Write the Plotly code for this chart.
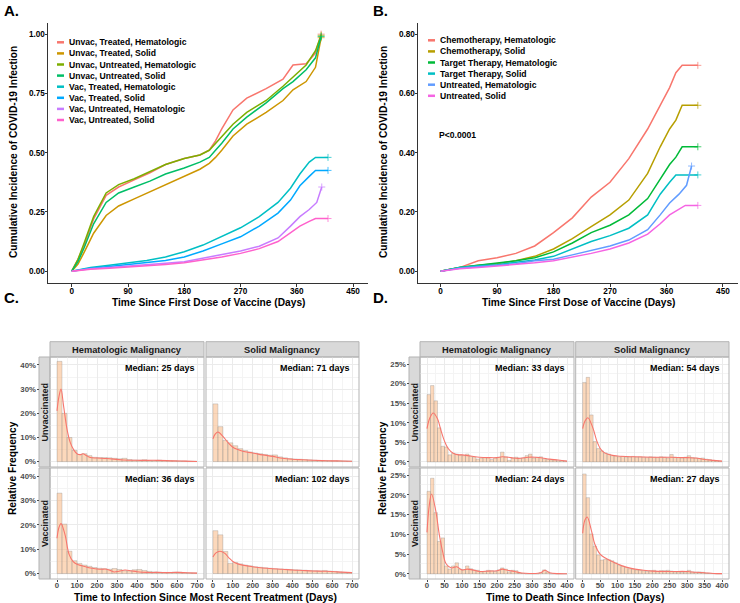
import plotly.graph_objects as go

W, H = 740, 603
FONT = "Liberation Sans, Arial, sans-serif"

# ---------------- panel A: cumulative incidence by vaccination / treatment / cancer
a_names = ["Unvac, Treated, Hematologic", "Unvac, Treated, Solid",
           "Unvac, Untreated, Hematologic", "Unvac, Untreated, Solid",
           "Vac, Treated, Hematologic", "Vac, Treated, Solid",
           "Vac, Untreated, Hematologic", "Vac, Untreated, Solid"]
a_colors = ["#F8766D", "#CD9600", "#7CAE00", "#00BE67",
            "#00BFC4", "#00A9FF", "#C77CFF", "#FF61CC"]

unvac_days = [0, 10, 20, 35, 55, 75, 100, 125, 150, 180, 205, 220, 230, 240,
              258, 280, 311, 338, 354, 375, 390, 399]
unvac_treated_heme = [0, 0.05, 0.11, 0.22, 0.32, 0.355, 0.385, 0.415, 0.45, 0.475, 0.49,
                      0.51, 0.55, 0.60, 0.68, 0.73, 0.77, 0.81, 0.87, 0.875, 0.92, 1.0]
unvac_treated_solid = [0, 0.03, 0.08, 0.16, 0.235, 0.275, 0.305, 0.335, 0.365, 0.40, 0.43,
                       0.455, 0.48, 0.51, 0.57, 0.62, 0.67, 0.72, 0.765, 0.80, 0.86, 0.985]
unvac_untreated_heme = [0, 0.05, 0.12, 0.23, 0.33, 0.365, 0.39, 0.42, 0.45, 0.475, 0.49,
                        0.51, 0.54, 0.57, 0.62, 0.67, 0.72, 0.78, 0.82, 0.87, 0.93, 0.995]
unvac_untreated_solid = [0, 0.04, 0.10, 0.20, 0.29, 0.33, 0.355, 0.38, 0.41, 0.435, 0.46,
                         0.48, 0.51, 0.54, 0.60, 0.65, 0.71, 0.77, 0.80, 0.85, 0.90, 0.99]

vac_days = [0, 30, 60, 90, 120, 150, 180, 210, 240, 270, 300, 330, 350, 365, 380, 390, 410]
vac_treated_heme = [0, 0.015, 0.025, 0.035, 0.045, 0.06, 0.082, 0.11, 0.145, 0.183, 0.23,
                    0.29, 0.35, 0.41, 0.46, 0.48, 0.48]
vac_treated_solid = [0, 0.012, 0.02, 0.028, 0.035, 0.045, 0.06, 0.085, 0.115, 0.145, 0.19,
                     0.245, 0.30, 0.36, 0.40, 0.425, 0.425]
vac_untreated_solid = [0, 0.008, 0.012, 0.017, 0.021, 0.028, 0.035, 0.047, 0.06, 0.075, 0.095,
                       0.125, 0.16, 0.19, 0.21, 0.222, 0.222]
untreated_heme_days = [0, 30, 60, 90, 120, 150, 180, 210, 240, 270, 300, 330, 350, 365, 380, 392, 400]
vac_untreated_heme = [0, 0.01, 0.015, 0.02, 0.025, 0.033, 0.04, 0.055, 0.07, 0.085, 0.105,
                      0.14, 0.19, 0.23, 0.26, 0.29, 0.355]

# ---------------- panel B: cumulative incidence by treatment type
b_names = ["Chemotherapy, Hematologic", "Chemotherapy, Solid",
           "Target Therapy, Hematologic", "Target Therapy, Solid",
           "Untreated, Hematologic", "Untreated, Solid"]
b_colors = ["#F8766D", "#B79F00", "#00BA38", "#00BFC4", "#619CFF", "#F564E3"]
b_days = [0, 30, 60, 90, 120, 150, 180, 210, 240, 270, 300, 330, 350, 365, 375, 385, 410]
chemo_heme = [0, 0.012, 0.035, 0.045, 0.06, 0.085, 0.13, 0.18, 0.25, 0.30, 0.38, 0.48,
              0.56, 0.62, 0.67, 0.695, 0.695]
chemo_solid = [0, 0.012, 0.02, 0.025, 0.035, 0.05, 0.075, 0.11, 0.15, 0.19, 0.24, 0.33,
               0.42, 0.48, 0.51, 0.56, 0.56]
target_heme = [0, 0.012, 0.02, 0.027, 0.035, 0.045, 0.065, 0.095, 0.13, 0.155, 0.19, 0.245,
               0.31, 0.36, 0.385, 0.42, 0.42]
target_solid = [0, 0.012, 0.018, 0.022, 0.03, 0.038, 0.05, 0.075, 0.10, 0.12, 0.145, 0.19,
                0.26, 0.30, 0.325, 0.325, 0.325]
untreated_heme = [0, 0.01, 0.015, 0.02, 0.025, 0.035, 0.04, 0.055, 0.07, 0.085, 0.105, 0.14,
                  0.19, 0.23, 0.26, 0.29, 0.355]
untreated_solid = vac_untreated_solid

# ---------------- panel C: time to infection since most recent treatment (25-day bins, %)
c_bin_start = list(range(0, 700, 25))
c_heme_unvac = [41.5, 20.0, 10.0, 4.7, 3.0, 3.3, 2.5, 1.8, 1.7, 1.7, 1.6, 1.4, 1.2, 1.4,
                0.9, 0.7, 0.6, 0.8, 0.5, 0.5, 0.6, 0.5, 0.5, 0.4, 0.3, 0.3, 0.2, 0.2]
c_solid_unvac = [23.9, 14.5, 8.8, 7.8, 6.6, 5.4, 4.6, 4.0, 3.6, 3.3, 3.0, 2.7, 2.8, 2.0,
                 1.6, 1.3, 1.1, 1.0, 0.9, 0.75, 0.6, 0.5, 0.5, 0.45, 0.4, 0.35, 0.3, 0.25]
c_heme_vac = [33.0, 20.3, 9.2, 5.3, 4.2, 3.5, 3.0, 2.5, 2.2, 2.0, 1.8, 2.1, 1.7, 1.2,
              1.1, 1.6, 1.7, 1.3, 0.9, 0.7, 0.6, 0.5, 0.5, 0.6, 0.6, 0.4, 0.3, 0.3]
c_solid_vac = [17.6, 15.9, 9.1, 4.2, 4.6, 4.0, 3.5, 3.2, 2.8, 2.6, 2.4, 2.2, 2.0, 1.9,
               1.8, 1.7, 1.6, 1.5, 1.4, 1.3, 1.2, 1.1, 1.3, 1.0, 0.9, 0.7, 0.5, 0.4]
c_heme_unvac_kd_x = [0, 10, 20, 33, 50, 66, 83, 100, 116, 130, 146, 166, 200, 250, 330,
                     415, 500, 580, 640, 700]
c_heme_unvac_kd = [21, 27, 30, 23, 13.5, 8, 5, 3.3, 2.9, 3.3, 2.6, 1.7, 1.5, 1.3, 0.7,
                   0.55, 0.55, 0.35, 0.25, 0.1]
c_solid_unvac_kd_x = [0, 12, 25, 50, 75, 100, 125, 150, 200, 250, 300, 350, 400, 450, 500,
                      550, 600, 650, 700]
c_solid_unvac_kd = [9.5, 11.5, 12.3, 10.5, 8.0, 6.0, 5.0, 4.3, 3.6, 2.8, 2.2, 1.4, 1.0,
                    0.8, 0.6, 0.45, 0.35, 0.3, 0.2]
c_heme_vac_kd_x = [0, 10, 20, 40, 60, 80, 100, 125, 150, 175, 200, 225, 240, 260, 285, 310,
                   340, 370, 400, 450, 500, 550, 600, 650, 700]
c_heme_vac_kd = [14.5, 19, 20.5, 16, 8, 5, 3.8, 3.2, 2.6, 2.2, 1.9, 1.8, 1.9, 1.5, 0.7, 1.0,
                 1.5, 1.2, 0.8, 0.5, 0.5, 0.4, 0.5, 0.35, 0.2]
c_solid_vac_kd_x = [0, 15, 35, 60, 80, 100, 125, 150, 200, 250, 300, 350, 400, 450, 500,
                    550, 600, 650, 700]
c_solid_vac_kd = [6.8, 8.5, 9.2, 8.3, 6.5, 5.0, 4.0, 3.5, 2.8, 2.3, 2.0, 1.8, 1.5, 1.3, 1.1,
                  1.0, 0.9, 0.6, 0.4]
c_medians = ["Median: 25 days", "Median: 71 days", "Median: 36 days", "Median: 102 days"]

# ---------------- panel D: time to death since infection (10-day bins, %)
d_bin_start = list(range(0, 400, 10))
d_heme_unvac = [17.2, 19.5, 15.6, 8.7, 4.0, 3.8, 1.8, 2.2, 2.0, 1.8, 1.6, 2.0, 1.4, 1.2,
                0.7, 1.0, 1.1, 1.1, 0.6, 1.0, 1.2, 2.5, 1.3, 0.4, 1.0, 1.2, 0.9, 1.0, 1.6,
                2.0, 1.0, 1.2, 1.3, 0.8, 0.6, 0.5, 0.5, 0.3, 0.3, 0.2]
d_solid_unvac = [20.3, 21.6, 12.0, 5.2, 3.4, 2.8, 2.3, 2.0, 1.6, 1.5, 1.3, 1.4, 1.2, 1.3,
                 1.4, 1.2, 1.3, 1.2, 1.1, 1.3, 1.2, 1.1, 1.3, 1.2, 1.0, 1.9, 1.2, 1.1, 1.0,
                 1.2, 1.6, 1.1, 1.0, 0.9, 1.0, 0.7, 0.6, 0.4, 0.3, 0.2]
d_heme_vac = [20.9, 24.2, 15.5, 8.2, 9.1, 2.0, 1.2, 2.0, 2.8, 1.2, 1.0, 2.0, 1.3, 1.0, 0.9,
              0.5, 0.6, 0.9, 0.8, 0.6, 1.0, 1.5, 1.2, 0.5, 0.9, 0.8, 0.2, 0.1, 0, 0, 0, 0,
              0.3, 1.0, 0.5, 0, 0, 0, 0, 0]
d_solid_vac = [25.3, 19.3, 10.1, 7.0, 4.8, 3.5, 3.7, 3.6, 3.3, 2.8, 2.2, 1.9, 1.6, 1.3,
               1.2, 1.0, 0.9, 0.8, 0.6, 0.8, 0.9, 0.6, 0.8, 0.8, 0.9, 0.7, 0.5, 0.5, 0.4,
               0.5, 0.9, 0.5, 0.4, 0.5, 0.4, 0.2, 0.1, 0.1, 0.05, 0.05]
d_heme_unvac_kd_x = [0, 8, 18, 30, 40, 50, 60, 75, 90, 100, 125, 150, 175, 200, 215, 240,
                     260, 290, 310, 330, 350, 375, 400]
d_heme_unvac_kd = [8.5, 11.2, 12.5, 11, 8, 5.3, 3.5, 2.2, 1.8, 1.8, 1.5, 1.2, 1.1, 1.1,
                   1.3, 1.1, 0.9, 1.2, 1.2, 1.0, 0.7, 0.5, 0.2]
d_solid_unvac_kd_x = [0, 7, 15, 30, 40, 50, 60, 75, 100, 150, 200, 250, 300, 325, 350, 375, 400]
d_solid_unvac_kd = [8.5, 10.5, 11.3, 8.5, 5.5, 3.5, 2.5, 1.9, 1.5, 1.3, 1.2, 1.2, 1.1, 1.0,
                    0.6, 0.4, 0.2]
d_heme_vac_kd_x = [0, 6, 13, 25, 35, 45, 55, 70, 85, 100, 115, 130, 150, 175, 200, 215, 230,
                   250, 270, 300, 325, 337, 350, 375, 400]
d_heme_vac_kd = [10.5, 17, 20.2, 16, 10, 5.5, 2.5, 1.5, 1.8, 1.0, 1.2, 1.0, 0.6, 0.7, 0.8,
                 1.2, 0.9, 0.6, 0.2, 0.1, 0.3, 0.9, 0.3, 0.05, 0.02]
d_solid_vac_kd_x = [0, 6, 13, 25, 35, 50, 65, 80, 100, 125, 150, 175, 200, 250, 300, 325,
                    350, 375, 400]
d_solid_vac_kd = [10.3, 13.5, 14.4, 11, 7.5, 5, 4, 3.3, 2.5, 1.7, 1.2, 0.9, 0.7, 0.6, 0.6,
                  0.4, 0.3, 0.1, 0.05]
d_medians = ["Median: 33 days", "Median: 54 days", "Median: 24 days", "Median: 27 days"]

col_labels = ["Hematologic Malignancy", "Solid Malignancy"]
row_labels = ["Unvaccinated", "Vaccinated"]


def px_x(x):
    return x / W


def px_y(y):
    return 1 - y / H


fig = go.Figure()
layout = {}
shapes = []
annos = []


def ann(text, x, y, size, xanchor="center", yanchor="middle", angle=0, color="black",
        bold=True, xref="paper", yref="paper"):
    annos.append(dict(text=text, x=x, y=y, xref=xref, yref=yref, showarrow=False,
                      xanchor=xanchor, yanchor=yanchor, textangle=angle,
                      font=dict(family=FONT, size=size, color=color,
                                weight="bold" if bold else "normal")))


# ---- KM panels
def km_axes(n, xdom, ydom, xr, yr, yticks, yfmt):
    tf = dict(family=FONT, size=8.2, color="black", weight="bold")
    common = dict(showline=True, linecolor="#333333", linewidth=1, ticks="outside",
                  ticklen=2.5, tickcolor="#333333", showgrid=False, zeroline=False,
                  tickfont=tf, ticklabelstandoff=-2)
    sfx = "" if n == 1 else str(n)
    layout["xaxis" + sfx] = dict(domain=xdom, range=xr, anchor="y" + sfx,
                                 tickvals=[0, 90, 180, 270, 360, 450], **common)
    layout["yaxis" + sfx] = dict(domain=ydom, range=yr, anchor="x" + sfx,
                                 tickvals=yticks, tickformat=yfmt, **common)


km_ydom = [px_y(283), px_y(23)]
km_axes(1, [px_x(48), px_x(368)], km_ydom, [-38, 474], [-0.05, 1.047],
        [0, 0.25, 0.5, 0.75, 1.0], ".2f")
km_axes(2, [px_x(418), px_x(738)], km_ydom, [-36, 474], [-0.04, 0.838],
        [0, 0.2, 0.4, 0.6, 0.8], ".2f")


def km_trace(name, col, xs, ys, xa, ya):
    # "+" censor mark on the last observed point
    sizes = [0] * (len(xs) - 1) + [5]
    return go.Scatter(x=xs, y=ys, mode="lines+markers", name=name, showlegend=False,
                      line=dict(color=col, width=1.5),
                      marker=dict(symbol="cross-thin", size=sizes,
                                  line=dict(color=col, width=1)),
                      xaxis=xa, yaxis=ya)


a_series = [(unvac_days, unvac_treated_heme), (unvac_days, unvac_treated_solid),
            (unvac_days, unvac_untreated_heme), (unvac_days, unvac_untreated_solid),
            (vac_days, vac_treated_heme), (vac_days, vac_treated_solid),
            (untreated_heme_days, vac_untreated_heme), (vac_days, vac_untreated_solid)]
for name, col, (xs, ys) in zip(a_names, a_colors, a_series):
    fig.add_trace(km_trace(name, col, xs, ys, "x", "y"))

b_series = [(b_days, chemo_heme), (b_days, chemo_solid), (b_days, target_heme),
            (b_days, target_solid), (untreated_heme_days, untreated_heme),
            (vac_days, untreated_solid)]
for name, col, (xs, ys) in zip(b_names, b_colors, b_series):
    fig.add_trace(km_trace(name, col, xs, ys, "x2", "y2"))

# legends drawn inside the panels
for i, (name, col) in enumerate(zip(a_names, a_colors)):
    yc = 42.3 + i * 11.1
    shapes.append(dict(type="line", xref="paper", yref="paper", x0=px_x(57), x1=px_x(64),
                       y0=px_y(yc), y1=px_y(yc), line=dict(color=col, width=2.5)))
    ann(name, px_x(66.5), px_y(yc), 8.6, xanchor="left")
for i, (name, col) in enumerate(zip(b_names, b_colors)):
    yc = 40.3 + i * 11.1
    shapes.append(dict(type="line", xref="paper", yref="paper", x0=px_x(428), x1=px_x(435),
                       y0=px_y(yc), y1=px_y(yc), line=dict(color=col, width=2.5)))
    ann(name, px_x(438), px_y(yc), 8.6, xanchor="left")

ann("P<0.0001", -6, 0.46, 8.6, xanchor="left", xref="x2", yref="y2")

ann("A.", px_x(2), px_y(10), 15, xanchor="left")
ann("B.", px_x(371), px_y(10), 15, xanchor="left")
ann("C.", px_x(2), px_y(297), 15, xanchor="left")
ann("D.", px_x(371), px_y(297), 15, xanchor="left")

ann("Cumulative Incidence of COVID-19 Infection", px_x(14), px_y(152), 10.2, angle=-90)
ann("Cumulative Incidence of COVID-19 Infection", px_x(384), px_y(152), 10.2, angle=-90)
ann("Time Since First Dose of Vaccine (Days)", px_x(208), px_y(302), 10.2)
ann("Time Since First Dose of Vaccine (Days)", px_x(578), px_y(302), 10.2)

# ---- histogram facets
rows_px = [(357, 467), (468, 579)]
groups = [
    dict(cols_px=[(50, 204), (206, 359)], strip_x=(39, 50), xr=[-35, 735], yr=[-2.2, 43.3],
         xt=100, xminor=50, yt=[0, 10, 20, 30, 40], yminor=5, bins=c_bin_start, width=25,
         vals=[c_heme_unvac, c_solid_unvac, c_heme_vac, c_solid_vac],
         kd=[(c_heme_unvac_kd_x, c_heme_unvac_kd), (c_solid_unvac_kd_x, c_solid_unvac_kd),
             (c_heme_vac_kd_x, c_heme_vac_kd), (c_solid_vac_kd_x, c_solid_vac_kd)],
         med=c_medians, medx=700, first=3,
         xtitle="Time to Infection Since Most Recent Treatment (Days)", xtitle_x=205,
         ytitle_x=12),
    dict(cols_px=[(420, 574), (575.7, 729)], strip_x=(409, 420), xr=[-20, 420],
         yr=[-1.3, 26.8], xt=50, xminor=25, yt=[0, 5, 10, 15, 20, 25], yminor=2.5,
         bins=d_bin_start, width=10,
         vals=[d_heme_unvac, d_solid_unvac, d_heme_vac, d_solid_vac],
         kd=[(d_heme_unvac_kd_x, d_heme_unvac_kd), (d_solid_unvac_kd_x, d_solid_unvac_kd),
             (d_heme_vac_kd_x, d_heme_vac_kd), (d_solid_vac_kd_x, d_solid_vac_kd)],
         med=d_medians, medx=400, first=7,
         xtitle="Time to Death Since Infection (Days)", xtitle_x=574.5, ytitle_x=382),
]

tickf = dict(family=FONT, size=7.8, color="#4D4D4D", weight="bold")
for g in groups:
    k = 0
    for r, (top, bot) in enumerate(rows_px):
        for c, (left, right) in enumerate(g["cols_px"]):
            n = g["first"] + k
            xa, ya = "x%d" % n, "y%d" % n
            layout["xaxis%d" % n] = dict(
                domain=[px_x(left), px_x(right)], range=g["xr"], anchor=ya,
                dtick=g["xt"], tick0=0, showgrid=True, gridcolor="#EBEBEB", gridwidth=1,
                minor=dict(dtick=g["xminor"], tick0=0, showgrid=True, gridcolor="#F4F4F4",
                           gridwidth=0.6),
                zeroline=False, showline=False,
                showticklabels=(r == 1), ticks="outside" if r == 1 else "",
                ticklen=2, tickcolor="#4D4D4D", tickfont=tickf, ticklabelstandoff=-3)
            ydict = dict(
                domain=[px_y(bot), px_y(top)], range=g["yr"], tickmode="array",
                tickvals=g["yt"], ticktext=["%d%%" % v for v in g["yt"]],
                showgrid=True, gridcolor="#EBEBEB", gridwidth=1,
                minor=dict(dtick=g["yminor"], tick0=0, showgrid=True, gridcolor="#F4F4F4",
                           gridwidth=0.6),
                zeroline=False, showline=False, tickfont=tickf, ticklen=2.5,
                tickcolor="#4D4D4D", ticklabelstandoff=-1)
            if c == 0:
                ydict.update(anchor="free", position=px_x(g["strip_x"][0]),
                             ticks="outside", showticklabels=True)
            else:
                ydict.update(anchor=xa, ticks="", showticklabels=False)
            layout["yaxis%d" % n] = ydict

            centers = [b + g["width"] / 2 for b in g["bins"]]
            fig.add_trace(go.Bar(x=centers, y=g["vals"][k], width=g["width"],
                                 marker=dict(color="rgba(250,178,120,0.5)",
                                             line=dict(color="rgba(140,140,140,0.55)",
                                                       width=0.6)),
                                 xaxis=xa, yaxis=ya, showlegend=False))
            kx, ky = g["kd"][k]
            fig.add_trace(go.Scatter(x=kx, y=ky, mode="lines", line_shape="spline",
                                     line=dict(color="#F8766D", width=1.1),
                                     xaxis=xa, yaxis=ya, showlegend=False))
            # panel border
            shapes.append(dict(type="rect", xref=xa + " domain", yref=ya + " domain",
                               x0=0, x1=1, y0=0, y1=1, line=dict(color="#B3B3B3", width=1),
                               layer="above"))
            ann(g["med"][k], g["medx"], 0.9, 9, xanchor="right", xref=xa,
                yref=ya + " domain")
            k += 1

    # column strips
    for c, (left, right) in enumerate(g["cols_px"]):
        shapes.append(dict(type="rect", xref="paper", yref="paper", x0=px_x(left),
                           x1=px_x(right), y0=px_y(357), y1=px_y(341.7), layer="below",
                           fillcolor="#D9D9D9", line=dict(color="#B3B3B3", width=1)))
        ann(col_labels[c], px_x((left + right) / 2), px_y(349.5), 9.3, color="#1A1A1A")
    # row strips
    sx0, sx1 = g["strip_x"]
    for r, (top, bot) in enumerate(rows_px):
        shapes.append(dict(type="rect", xref="paper", yref="paper", x0=px_x(sx0),
                           x1=px_x(sx1), y0=px_y(bot), y1=px_y(top), layer="below",
                           fillcolor="#D9D9D9", line=dict(color="#B3B3B3", width=1)))
        ann(row_labels[r], px_x((sx0 + sx1) / 2), px_y((top + bot) / 2), 9,
            angle=-90, color="#1A1A1A")
    ann("Relative Frequency", px_x(g["ytitle_x"]), px_y(468), 10.2, angle=-90)
    ann(g["xtitle"], px_x(g["xtitle_x"]), px_y(597), 10.3)

fig.update_layout(width=W, height=H, margin=dict(l=0, r=0, t=0, b=0),
                  paper_bgcolor="white", plot_bgcolor="white", showlegend=False,
                  barmode="overlay", shapes=shapes, annotations=annos,
                  font=dict(family=FONT), **layout)

fig.write_html("out.html", config={"displayModeBar": False},
               post_script="document.body.style.margin='0';")
